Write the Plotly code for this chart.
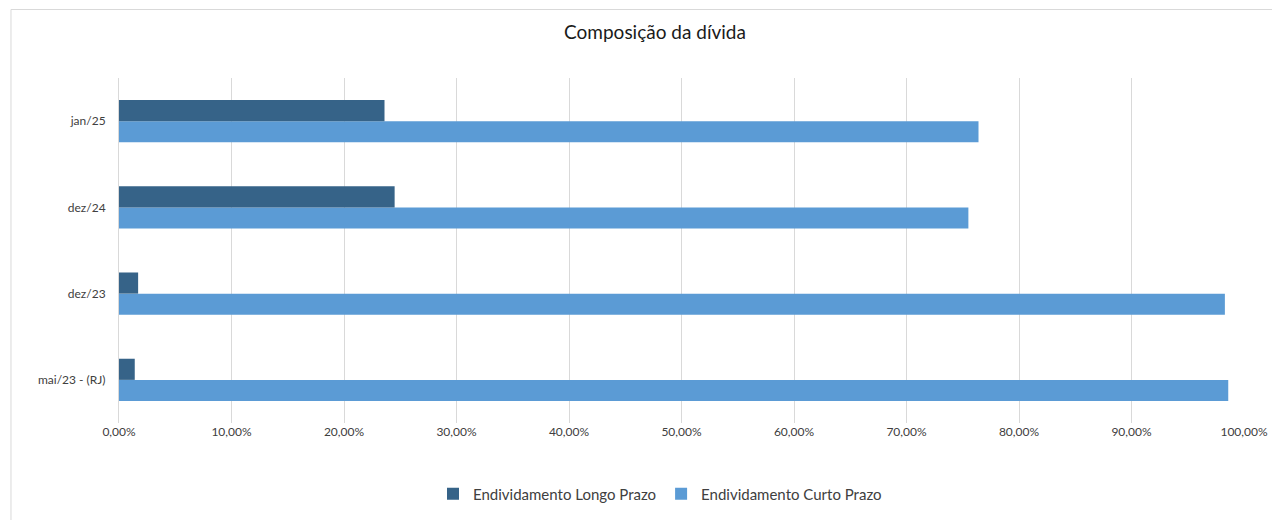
import plotly.graph_objects as go

categories = ["mai/23 - (RJ)", "dez/23", "dez/24", "jan/25"]
longo_prazo = [0.014, 0.017, 0.245, 0.236]
curto_prazo = [0.986, 0.983, 0.755, 0.764]
x_ticks = [0, 0.1, 0.2, 0.3, 0.4, 0.5, 0.6, 0.7, 0.8, 0.9, 1.0]

FONT = "Lato, 'Open Sans', sans-serif"

fig = go.Figure()
fig.add_trace(go.Bar(
    y=categories, x=curto_prazo, orientation="h",
    name="Endividamento Curto Prazo",
    marker=dict(color="#5b9bd5", line=dict(width=0)),
))
fig.add_trace(go.Bar(
    y=categories, x=longo_prazo, orientation="h",
    name="Endividamento Longo Prazo",
    marker=dict(color="#366388", line=dict(width=0)),
))

# page has an 8px body margin; figure coordinates are page coordinates minus 8
OFF = 8
W, H = 1280 - OFF, 520 - OFF
L, T = 118.5 - OFF, 78 - OFF
R = W - (1248.5 - OFF)
B = H - (423 - OFF)
pw, ph = W - L - R, H - T - B

def px_to_paper_x(px):
    return (px - OFF - L) / pw

def px_to_paper_y(py):
    return (H - B - (py - OFF)) / ph

fig.add_shape(type="rect", xref="paper", yref="paper",
              x0=px_to_paper_x(10), x1=px_to_paper_x(1300),
              y0=px_to_paper_y(540), y1=px_to_paper_y(9.5),
              line=dict(color="#d9d9d9", width=1), fillcolor="rgba(0,0,0,0)",
              layer="below")

fig.update_layout(
    width=W, height=H,
    margin=dict(l=L, r=R, t=T, b=B),
    paper_bgcolor="white", plot_bgcolor="white",
    separators=",.",
    barmode="group", bargap=0.51, bargroupgap=0,
    font=dict(family=FONT, color="#404040", size=12),
    title=dict(text="Composição da dívida", xref="container", x=(655 - OFF) / W,
               y=1 - (32 - OFF) / H, yanchor="middle", xanchor="center",
               font=dict(size=19, color="#1a1a1a", family=FONT)),
    legend=dict(orientation="h", traceorder="reversed",
                xref="container", yref="container",
                x=(660 - OFF) / W, xanchor="center", y=1 - (494 - OFF) / H, yanchor="middle",
                font=dict(size=15, color="#404040", family=FONT),
                itemwidth=30),
    showlegend=True,
)
fig.update_xaxes(range=[0, 1.0], tickvals=x_ticks, tickformat=".2%",
                 showgrid=True, gridcolor="#d9d9d9", gridwidth=1,
                 zeroline=False, showline=False, ticks="",
                 tickfont=dict(size=12, color="#404040"), fixedrange=True)
fig.update_yaxes(categoryorder="array", categoryarray=categories,
                 showgrid=False, zeroline=False,
                 showline=True, linecolor="#d9d9d9", linewidth=1,
                 ticks="", tickfont=dict(size=12, color="#404040"),
                 ticklabelstandoff=10)

fig.write_html("out.html")
